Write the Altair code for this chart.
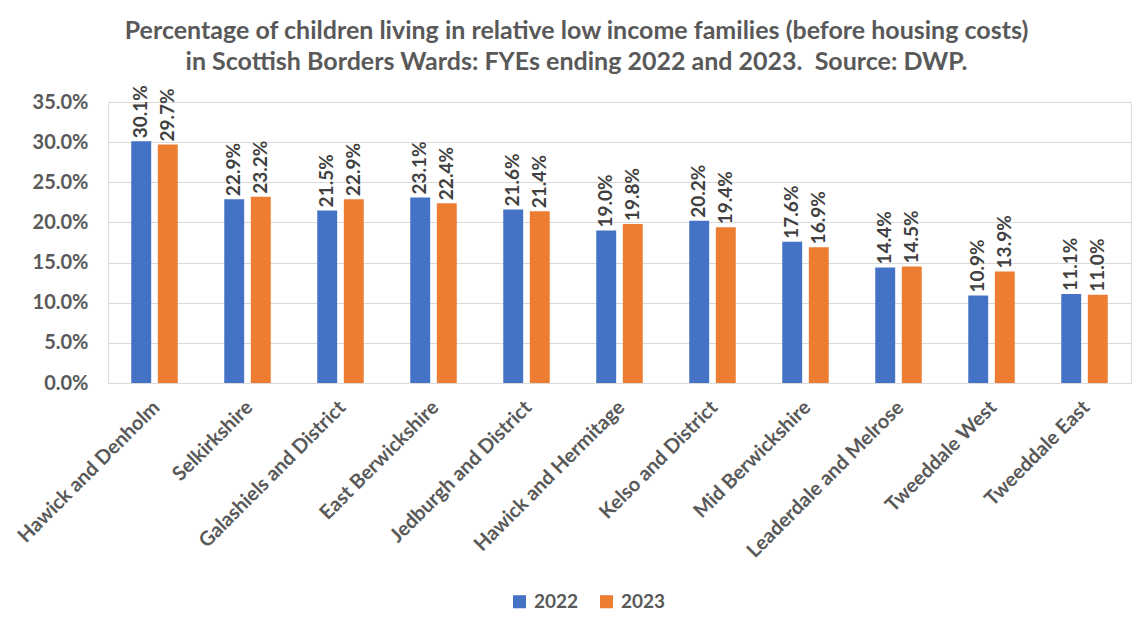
import altair as alt
import pandas as pd

wards = ["Hawick and Denholm", "Selkirkshire", "Galashiels and District", "East Berwickshire",
         "Jedburgh and District", "Hawick and Hermitage", "Kelso and District", "Mid Berwickshire",
         "Leaderdale and Melrose", "Tweeddale West", "Tweeddale East"]
years = ["2022", "2023"]
pct_2022 = [30.1, 22.9, 21.5, 23.1, 21.6, 19.0, 20.2, 17.6, 14.4, 10.9, 11.1]
pct_2023 = [29.7, 23.2, 22.9, 22.4, 21.4, 19.8, 19.4, 16.9, 14.5, 13.9, 11.0]
colors = ["#4472C4", "#ED7D31"]

rows = []
for w, a, b in zip(wards, pct_2022, pct_2023):
    rows.append({"Ward": w, "Year": "2022", "pct": a})
    rows.append({"Ward": w, "Year": "2023", "pct": b})
df = pd.DataFrame(rows)

FONT = "Lato"
GREY = "#595959"

base = alt.Chart(df).transform_calculate(v="datum.pct / 100").encode(
    x=alt.X("Ward:N", sort=wards, title=None,
            scale=alt.Scale(paddingInner=0.5, paddingOuter=0.25),
            axis=alt.Axis(labelAngle=-45, labelAlign="right", labelBaseline="top",
                          labelFont=FONT, labelFontSize=20, labelFontWeight="bold",
                          labelColor=GREY, labelPadding=14, labelOffset=-5, ticks=False,
                          domainColor="#d9d9d9", labelLimit=300)),
    xOffset=alt.XOffset("Year:N", scale=alt.Scale(paddingInner=0.25)),
)

bars = base.mark_bar().encode(
    y=alt.Y("v:Q", title=None,
            scale=alt.Scale(domain=[0, 0.35], nice=False),
            axis=alt.Axis(format=".1%", values=[0, 0.05, 0.1, 0.15, 0.2, 0.25, 0.3, 0.35],
                          labelFont=FONT, labelFontSize=20, labelFontWeight="bold",
                          labelColor=GREY, labelPadding=20, ticks=False, domain=False,
                          gridColor="#d9d9d9")),
    color=alt.Color("Year:N", scale=alt.Scale(domain=years, range=colors),
                    legend=alt.Legend(title=None, orient="none", direction="horizontal",
                                      legendX=402, legendY=490, symbolType="square",
                                      symbolSize=170, symbolStrokeWidth=0,
                                      labelFont=FONT, labelFontSize=19, labelFontWeight="bold",
                                      labelColor=GREY, columnPadding=18, labelOffset=5)),
)

labels = base.mark_text(angle=270, align="left", baseline="middle", dx=3,
                        font=FONT, fontSize=19, fontWeight="bold", color="#404040").encode(
    y=alt.Y("v:Q"),
    text=alt.Text("v:Q", format=".1%"),
)

chart = alt.layer(bars, labels).properties(
    width=1023, height=281,
    autosize=alt.AutoSizeParams(type="none"),
    padding={"left": 108, "top": 102, "right": 2, "bottom": 237},
    title=alt.TitleParams(
        text=["Percentage of children living in relative low income families (before housing costs)",
              "in Scottish Borders Wards: FYEs ending 2022 and 2023.\u00a0 Source: DWP."],
        anchor="middle", dx=-43, offset=10, font=FONT, fontSize=25, fontWeight="bold",
        color=GREY, lineHeight=31),
).configure_view(stroke=None).configure(background="white")

chart.save("out.html", embed_options={"renderer": "svg", "actions": False})
